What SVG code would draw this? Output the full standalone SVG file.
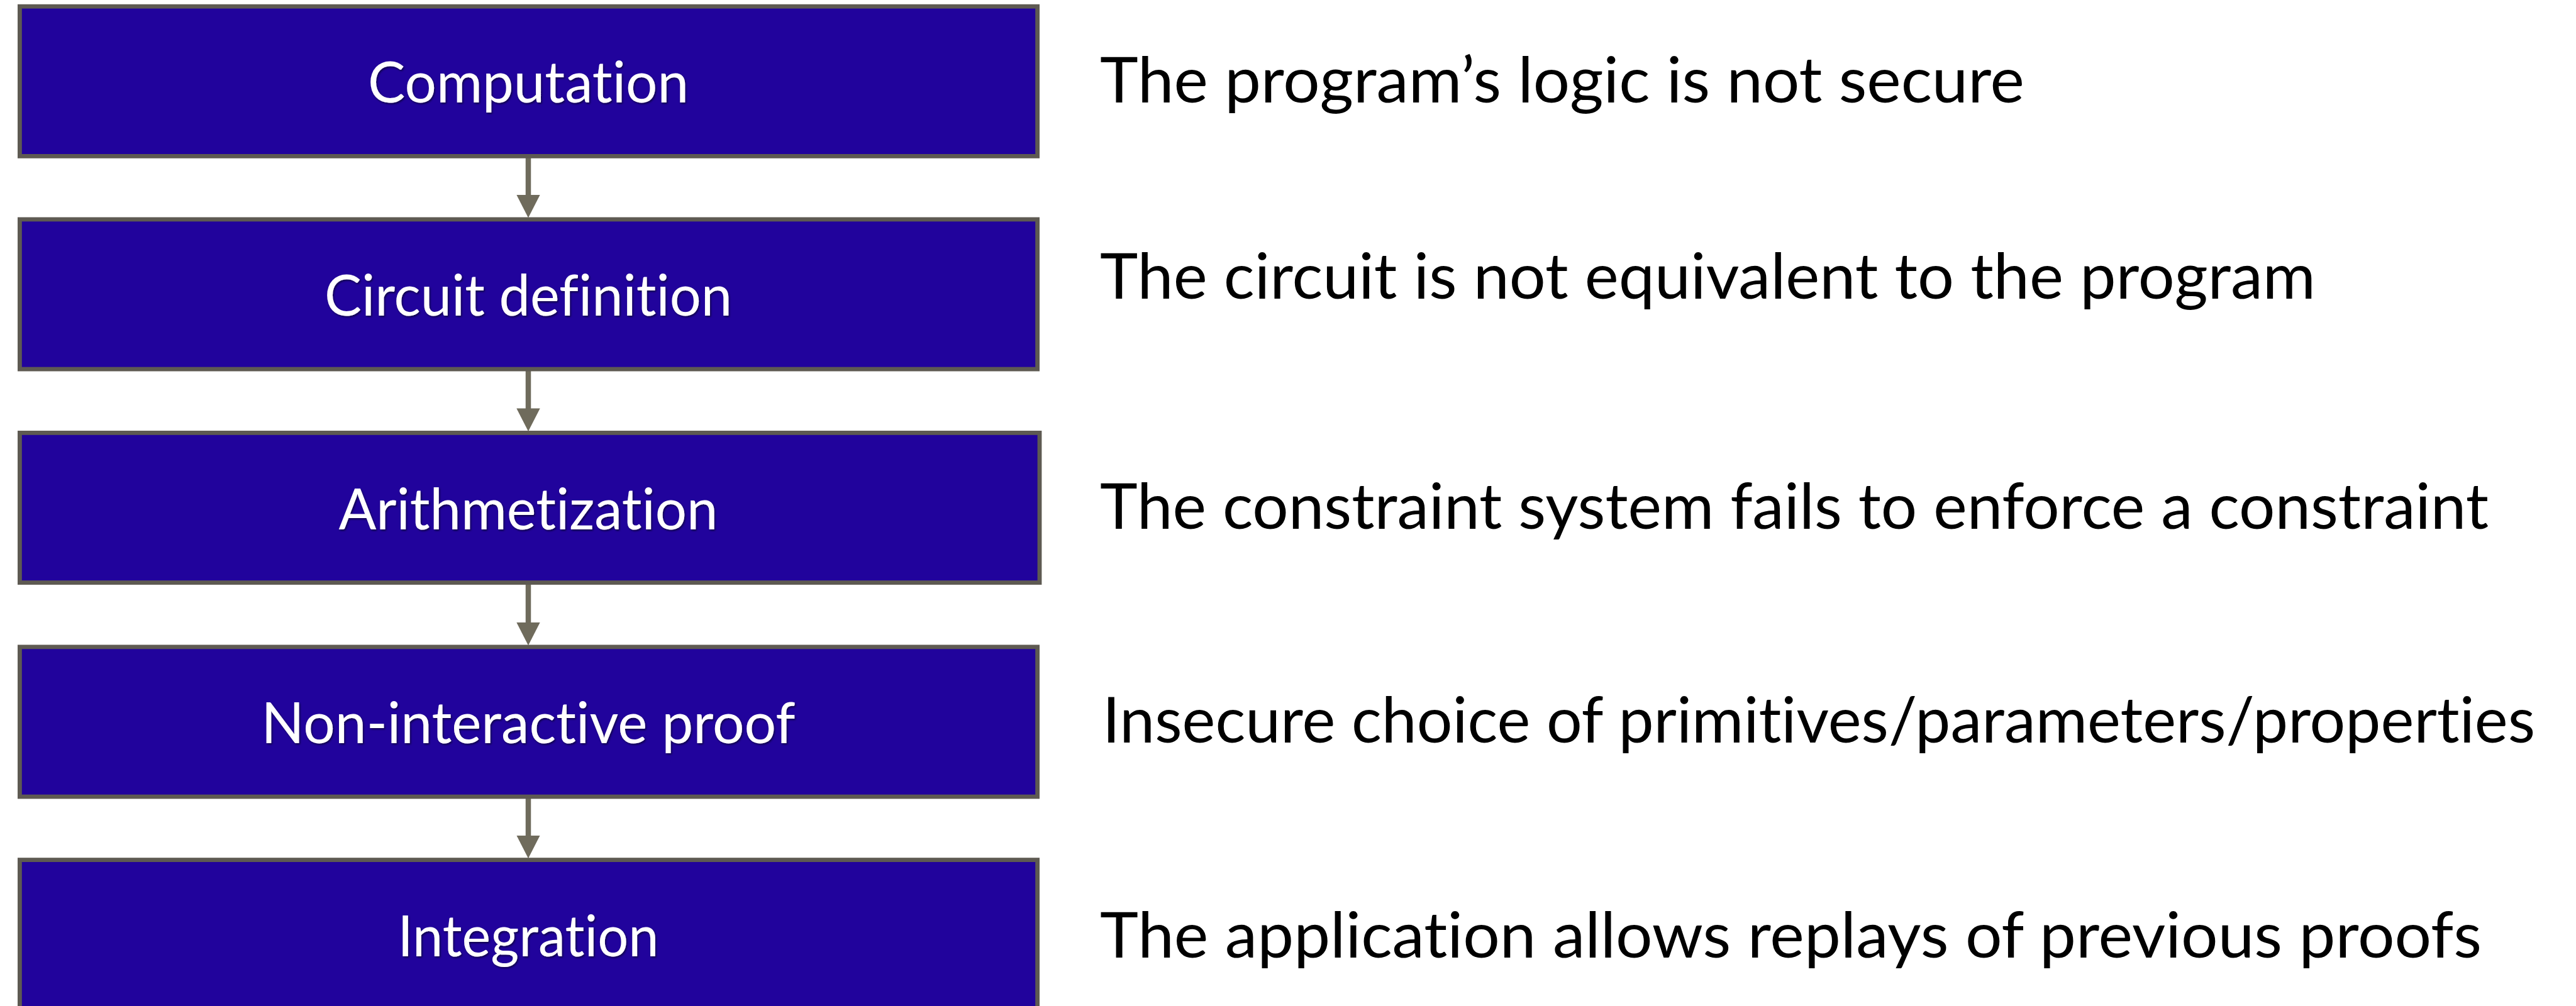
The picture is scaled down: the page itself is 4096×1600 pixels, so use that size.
<svg xmlns="http://www.w3.org/2000/svg" width="4096" height="1600" viewBox="0 0 4096 1600">
  <defs>
    <style>
      .box { fill: #21039c; stroke: #5e5a52; stroke-width: 6.8; }
      .lbl { font-family: Lato, "Open Sans", "Liberation Sans", sans-serif; font-size: 91px; fill: #ffffff; text-anchor: middle; font-variant-ligatures: none; font-feature-settings: "liga" 0, "clig" 0; }
      .desc { font-family: Lato, "Open Sans", "Liberation Sans", sans-serif; font-size: 101px; fill: #000000; font-variant-ligatures: none; font-feature-settings: "liga" 0, "clig" 0; }
      .edge { stroke: #6f6b5c; stroke-width: 8.5; fill: none; }
    </style>
    <filter id="shadow" x="-5%" y="-20%" width="110%" height="140%">
      <feDropShadow dx="1.5" dy="2" stdDeviation="1.5" flood-color="#000000" flood-opacity="0.55"/>
    </filter>
    <marker id="arrow" viewBox="0 0 36.6 37.4" markerWidth="36.6" markerHeight="37.4" refX="1" refY="18.7" orient="auto" markerUnits="userSpaceOnUse">
      <path d="M0,0 L36.6,18.7 L0,37.4 Z" fill="#6f6b5c"/>
    </marker>
  </defs>
  <rect width="4096" height="1600" fill="#ffffff"/>

  <g id="connectors">
    <line class="edge" x1="840" y1="249" x2="840" y2="310.8" marker-end="url(#arrow)"/>
    <line class="edge" x1="840" y1="588" x2="840" y2="650.4" marker-end="url(#arrow)"/>
    <line class="edge" x1="840" y1="927" x2="840" y2="990.9" marker-end="url(#arrow)"/>
    <line class="edge" x1="840" y1="1268" x2="840" y2="1329.6" marker-end="url(#arrow)"/>
  </g>

  <g id="node-computation">
    <rect class="box" x="31.4" y="10.2" width="1618.2" height="238.2"/>
    <text class="lbl" x="840" y="163.3" textLength="510" lengthAdjust="spacingAndGlyphs" filter="url(#shadow)">Computation</text>
  </g>
  <g id="node-circuit">
    <rect class="box" x="31.4" y="348.9" width="1618.2" height="238.2"/>
    <text class="lbl" x="840" y="502" textLength="648" lengthAdjust="spacingAndGlyphs" filter="url(#shadow)">Circuit definition</text>
  </g>
  <g id="node-arith">
    <rect class="box" x="31.4" y="688.4" width="1621.6" height="238.2"/>
    <text class="lbl" x="840" y="841.5" textLength="603" lengthAdjust="spacingAndGlyphs" filter="url(#shadow)">Arithmetization</text>
  </g>
  <g id="node-proof">
    <rect class="box" x="31.4" y="1028.9" width="1618.2" height="238.2"/>
    <text class="lbl" x="840" y="1182" textLength="849" lengthAdjust="spacingAndGlyphs" filter="url(#shadow)">Non-interactive proof</text>
  </g>
  <g id="node-integration">
    <rect class="box" x="31.4" y="1367.6" width="1618.2" height="238.2"/>
    <text class="lbl" x="840" y="1520.7" textLength="415" lengthAdjust="spacingAndGlyphs" filter="url(#shadow)">Integration</text>
  </g>

  <g id="descriptions">
    <text class="desc" x="1749" y="163.4" textLength="1470" lengthAdjust="spacingAndGlyphs">The program’s logic is not secure</text>
    <text class="desc" x="1749" y="474.9" textLength="1933" lengthAdjust="spacingAndGlyphs">The circuit is not equivalent to the program</text>
    <text class="desc" x="1749" y="840.8" textLength="2208" lengthAdjust="spacingAndGlyphs">The constraint system fails to enforce a constraint</text>
    <text class="desc" x="1753" y="1181.2" textLength="2278" lengthAdjust="spacingAndGlyphs">Insecure choice of primitives/parameters/properties</text>
    <text class="desc" x="1749" y="1523.3" textLength="2197" lengthAdjust="spacingAndGlyphs">The application allows replays of previous proofs</text>
  </g>
</svg>
